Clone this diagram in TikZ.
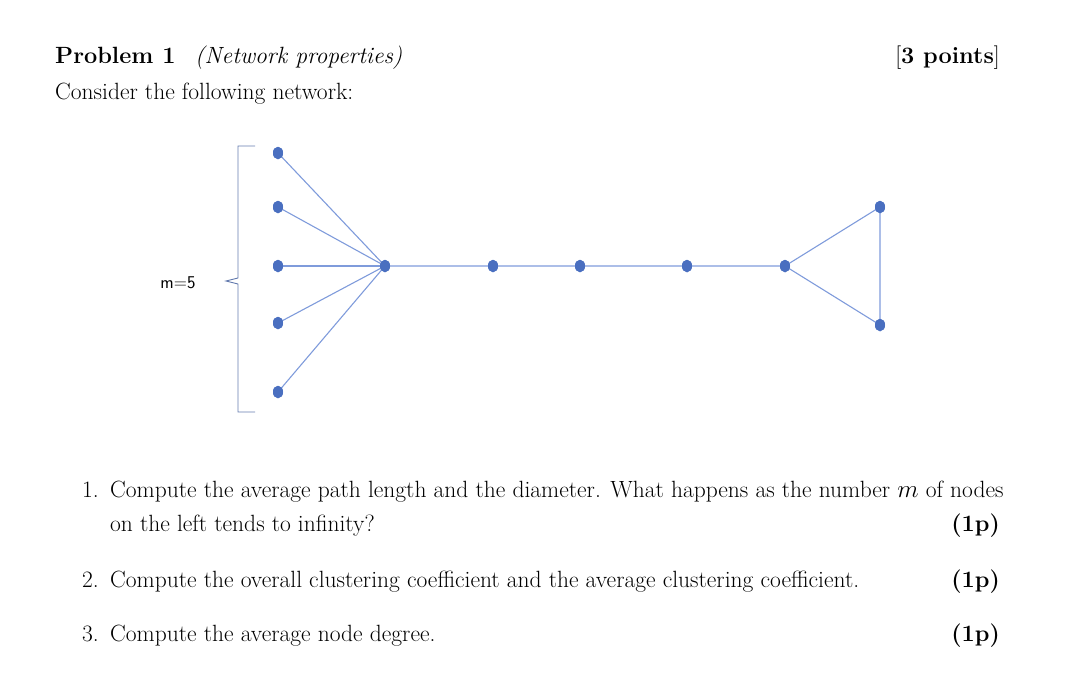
\documentclass[tikz,border=0pt]{standalone}
\usepackage{fontspec}
\usetikzlibrary{shapes.geometric,calc}
\begin{document}
\begin{tikzpicture}[x=1pt,y=-1pt,
  vtx/.style={ellipse,fill=nodeblue,inner sep=0pt,minimum width=10pt,minimum height=12.5pt},
  edge/.style={draw=edgeblue,line width=1.1pt},
  txt/.style={anchor=base west,inner sep=0pt,font=\fontsize{23.5}{28}\selectfont},
  txr/.style={anchor=base east,inner sep=0pt,font=\fontsize{23.5}{28}\selectfont}]
\definecolor{nodeblue}{HTML}{4A6FC0}
\definecolor{edgeblue}{HTML}{7F9BDB}
\useasboundingbox (0,0) rectangle (1080,673);
\node[txt] (p) at (55,63) {\textbf{Problem 1}};
\node[txt] (pn) at (195,63) {\textit{(Network properties)}};
\node[txr] (pts) at (1000,63) {[\textbf{3 points}]};
\node[txt] (c) at (55,99) {Consider the following network:};
% graph
\foreach \n/\y in {1/153,2/207,3/266,4/323,5/392} \node[vtx] (l\n) at (278,\y) {};
\node[vtx] (h) at (385,266) {};
\node[vtx] (a) at (493,266) {};
\node[vtx] (b) at (580,266) {};
\node[vtx] (c2) at (687,266) {};
\node[vtx] (d) at (785,266) {};
\node[vtx] (t1) at (880,207) {};
\node[vtx] (t2) at (880,325) {};
\foreach \n in {1,...,5} \draw[edge] (l\n.center) -- (h.center);
\draw[edge] (h.center) -- (a.center) -- (b.center) -- (c2.center) -- (d.center) -- (t1.center) -- (t2.center) -- (d.center);
\foreach \n in {1,...,5} \node[vtx] at (l\n) {};
\foreach \m in {h,a,b,c2,d,t1,t2} \node[vtx] at (\m) {};
% bracket
\coordinate (bt) at (238,146);
\coordinate (bb) at (238,412);
\draw[edgeblue!80!black,line width=0.9pt] ($(bt)+(17,0)$) -- (bt) -- (238,278) -- (226,281) -- (238,284) -- (bb) -- ($(bb)+(17,0)$);
\node[anchor=base,inner sep=0pt,font=\sffamily\fontsize{18}{21}\selectfont] (m) at (178,288) {m=5};
% items
\node[txt] (n1) at (82,497) {1.};
\node[txt] (i1) at (110,497) {Compute the average path length and the diameter. What happens as the number $m$ of nodes};
\node[txt] (i1b) at (110,531) {on the left tends to infinity?};
\node[txr] (s1) at (1000,531) {\textbf{(1p)}};
\node[txt] (n2) at (82,587) {2.};
\node[txt] (i2) at (110,587) {Compute the overall clustering coefficient and the average clustering coefficient.};
\node[txr] (s2) at (1000,587) {\textbf{(1p)}};
\node[txt] (n3) at (82,641) {3.};
\node[txt] (i3) at (110,641) {Compute the average node degree.};
\node[txr] (s3) at (1000,641) {\textbf{(1p)}};
\end{tikzpicture}
\end{document}
